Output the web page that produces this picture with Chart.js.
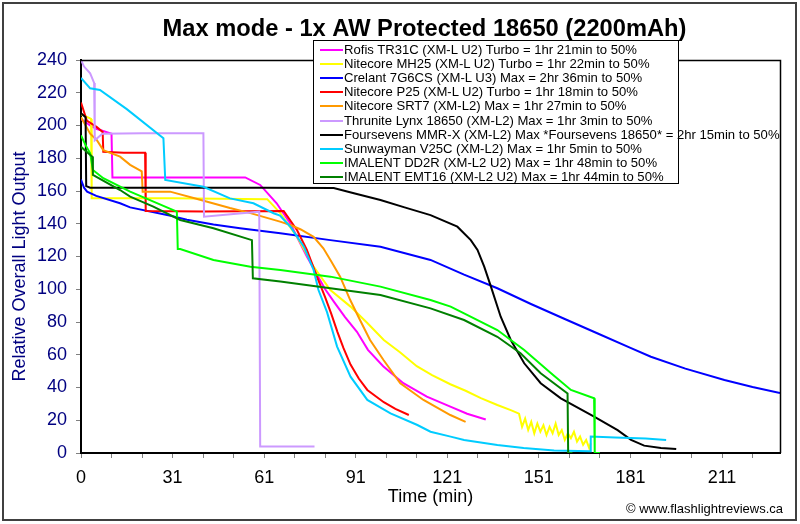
<!DOCTYPE html>
<html><head><meta charset="utf-8">
<script src="https://cdn.jsdelivr.net/npm/chart.js@4"></script>
<style>
html,body{margin:0;padding:0;background:#fff;}
#wrap{position:relative;width:800px;height:524px;overflow:hidden;}
#legend{position:absolute;left:313px;top:40px;width:364px;height:142px;border:1px solid #000;background:#fff;font-family:"Liberation Sans",Arial,sans-serif;font-size:13.1px;color:#000;}
.row{position:absolute;left:0;height:14px;white-space:nowrap;}
.sw{position:absolute;left:6px;top:7px;width:23px;height:2px;}
.tx{position:absolute;left:30px;top:0;line-height:16px;}
#copy{position:absolute;right:17px;top:501px;font-family:"Liberation Sans",Arial,sans-serif;font-size:13px;line-height:15px;color:#000;white-space:nowrap;}
</style></head>
<body>
<div id="wrap">
<canvas id="c" width="800" height="524"></canvas>
<div id="legend"></div>
<div id="copy"></div>
</div>
<script>
const FONT = '"Liberation Sans", Arial, sans-serif';
const chartTitle = 'Max mode - 1x AW Protected 18650 (2200mAh)';
const xAxisTitle = 'Time (min)';
const yAxisTitle = 'Relative Overall Light Output';
const copyrightText = '\u00A9 www.flashlightreviews.ca';
const xTickLabels = ['0','31','61','91','121','151','181','211'];

const seriesLabels = [
  'Rofis TR31C (XM-L U2) Turbo = 1hr 21min to 50%',
  'Nitecore MH25 (XM-L U2) Turbo = 1hr 22min to 50%',
  'Crelant 7G6CS (XM-L U3) Max = 2hr 36min to 50%',
  'Nitecore P25 (XM-L U2) Turbo = 1hr 18min to 50%',
  'Nitecore SRT7 (XM-L2) Max = 1hr 27min to 50%',
  'Thrunite Lynx 18650 (XM-L2) Max = 1hr 3min to 50%',
  'Foursevens MMR-X (XM-L2) Max *Foursevens 18650* = 2hr 15min to 50%',
  'Sunwayman V25C (XM-L2) Max = 1hr 5min to 50%',
  'IMALENT DD2R (XM-L2 U2) Max = 1hr 48min to 50%',
  'IMALENT EMT16 (XM-L2 U2) Max = 1hr 44min to 50%'
];
const seriesColors = ['#FF00FF','#FFFF00','#0000FF','#FF0000','#FF9900','#CC99FF','#000000','#00CCFF','#00FF00','#008000'];

const tr31cX = [0, 3, 5, 10, 10.3, 30, 53.8, 58.7, 64.1, 68.6, 74, 77, 80, 83, 86.5, 90.4, 94, 99, 105.6, 113.3, 121, 126.5, 132.6];
const tr31cY = [204, 200, 198, 195, 168.3, 168.3, 168.3, 163.7, 152.5, 140, 120, 110, 100, 92, 83, 74, 63, 53, 42.6, 34.4, 28.3, 24, 20.5];

const mh25X = [0, 3.3, 3.5, 30, 61, 65.3, 70.8, 76.2, 81.7, 88.3, 93.8, 99.2, 104.5, 110, 115, 121, 126, 131, 136.4, 141, 143.5, 144.5, 145.5, 146.5, 147.5, 148.5, 149.5, 150.5, 151.5, 152.5, 153.5, 154.5, 155.5, 156.5, 157.5, 158.5, 159.5, 160.5, 161.5, 162.5, 163.5, 164.5, 165.5, 166.5, 167];
const mh25Y = [207, 204, 155.5, 155.5, 155, 146.5, 132, 113.8, 99.5, 89.4, 79.4, 69, 61.5, 53, 47.5, 42, 38, 33.5, 29.3, 26, 24, 16, 21, 14, 19, 12, 18, 13, 17, 11, 16, 12, 18, 11, 14, 8, 12, 9, 13, 7, 10, 5, 8, 3, 6];

const g6csX = [0, 1, 2, 5, 12.8, 16.1, 29, 34.7, 43.4, 52.1, 65.3, 81.7, 98.1, 114.5, 125.5, 136.4, 147.4, 158.3, 169.3, 180.2, 186.7, 198, 210.8, 220, 229];
const g6csY = [167, 162, 159.6, 157, 152.5, 150, 145, 142.5, 139.5, 137.2, 134.2, 130, 126, 117.9, 108.9, 100.6, 91, 82, 73, 64, 58.8, 51.5, 44.6, 40.3, 36.6];

const p25X = [0, 1.9, 5.2, 7.1, 7.3, 14, 21, 21.2, 40, 66.4, 70.8, 74, 77.3, 80, 82, 84, 86, 88.3, 91, 93.8, 99.2, 103, 107.4];
const p25Y = [214, 203, 199, 196, 184, 183.4, 183.4, 147.8, 147.5, 147.8, 136, 124, 107.7, 95, 85, 74, 64, 54, 45.5, 38.5, 31, 27, 23.2];

const srt7X = [0, 3, 5.2, 7.3, 12.8, 16.1, 19.9, 20.2, 29.2, 38.4, 48.8, 55.5, 65.2, 68.6, 72, 76.2, 79.4, 82, 84.9, 88.2, 91.4, 94.7, 99.1, 104.6, 112.2, 121, 126];
const srt7Y = [205, 195, 191, 185, 181, 176, 172, 159.6, 159.6, 155, 149.6, 146.5, 141.3, 139.2, 136.5, 132, 125, 117, 107.7, 93.4, 81.2, 69, 56.8, 42.6, 32.4, 23.2, 19];

const lynxX = [0, 1, 3, 4.3, 4.5, 7, 20, 40.1, 40.3, 50, 58.4, 58.7, 76.5];
const lynxY = [240, 236, 231.9, 226, 191, 195, 195.2, 195.2, 144.3, 146, 147.4, 4, 4];

const mmrxX = [0, 1.5, 1.7, 3, 20, 40, 60, 82.8, 89.4, 98.1, 106, 114.5, 123.3, 127.7, 129.9, 132.1, 134.3, 137.5, 140.8, 145.2, 150.6, 157.2, 168.1, 175.8, 180.2, 184.5, 190, 195];
const mmrxY = [207.5, 205, 163, 162, 162, 162, 162, 161.8, 158.6, 154.5, 150, 145.3, 138.2, 130, 124, 113.8, 101.6, 83.2, 69, 54.8, 42.6, 33.4, 22.2, 14, 8, 4.5, 3, 2.4];

const v25cX = [0, 3, 6.2, 15, 27, 27.6, 40.1, 48.8, 56.5, 63.1, 65.2, 68.6, 73, 76.2, 77.8, 80.6, 83.9, 88.3, 93.8, 101.4, 110.2, 114.5, 121.1, 125.5, 136.4, 145, 155, 166.8, 167, 175, 185, 191.7];
const v25cY = [229, 222.7, 221.7, 210, 192.2, 166.7, 162.6, 155.5, 152.5, 146.4, 145, 138.2, 126, 111.8, 99.5, 86, 65, 46.6, 32.4, 24.2, 17.1, 13, 10, 8, 4.9, 3, 1.5, 1, 10, 9.5, 8.8, 8];

const dd2rX = [0, 1.5, 3, 3.9, 7.3, 16.1, 31.4, 31.7, 32.5, 43.4, 55.5, 65.3, 81.7, 98.1, 114.5, 121.1, 125.5, 136.4, 145.2, 154, 160.5, 168.1, 168.3, 170];
const dd2rY = [194, 188, 183, 172.8, 167.8, 159.6, 147.4, 124.6, 124.6, 117.9, 113.8, 111.8, 107.7, 101.6, 93.4, 89.4, 85.3, 75.1, 62.9, 48.7, 38.5, 33.4, 0, 0];

const emt16X = [0, 2.4, 3.7, 3.9, 12.8, 16.1, 23.7, 32.5, 43.4, 56, 56.3, 65.3, 81.7, 98.1, 114.5, 125.5, 136.4, 144, 150.6, 159.4, 159.6, 161];
const emt16Y = [187, 183, 181, 169.8, 160.6, 156.6, 150.5, 142.3, 137.2, 130, 106.7, 104.7, 100.6, 96.5, 88.3, 81.2, 71, 60.9, 48.7, 36.4, 0, 0];

const seriesX = [tr31cX, mh25X, g6csX, p25X, srt7X, lynxX, mmrxX, v25cX, dd2rX, emt16X];
const seriesY = [tr31cY, mh25Y, g6csY, p25Y, srt7Y, lynxY, mmrxY, v25cY, dd2rY, emt16Y];

const datasets = seriesLabels.map((label, i) => ({
  label,
  data: seriesX[i].map((x, j) => ({x, y: seriesY[i][j]})),
  borderColor: seriesColors[i],
  backgroundColor: seriesColors[i],
  borderWidth: 2,
  pointRadius: 0,
  showLine: true,
  fill: false,
  tension: 0,
  order: seriesLabels.length - i
}));

// legend (HTML)
const lg = document.getElementById('legend');
seriesLabels.forEach((label, i) => {
  const row = document.createElement('div');
  row.className = 'row';
  row.style.top = (1 + i * 14.1) + 'px';
  const sw = document.createElement('div');
  sw.className = 'sw';
  sw.style.background = seriesColors[i];
  const tx = document.createElement('div');
  tx.className = 'tx';
  tx.textContent = label;
  row.appendChild(sw); row.appendChild(tx);
  lg.appendChild(row);
});
document.getElementById('copy').textContent = copyrightText;

const framePlugin = {
  id: 'frame',
  beforeDraw(chart) {
    const c = chart.ctx;
    c.save();
    c.fillStyle = '#fff';
    c.fillRect(0, 0, chart.width, chart.height);
    c.restore();
  },
  afterDraw(chart) {
    const c = chart.ctx, a = chart.chartArea;
    c.save();
    c.strokeStyle = '#000';
    c.lineWidth = 1.5;
    c.beginPath();
    c.moveTo(a.left, a.top + 0.5);
    c.lineTo(a.right + 0.5, a.top + 0.5);
    c.lineTo(a.right + 0.5, a.bottom);
    c.stroke();
    c.strokeStyle = '#404040';
    c.lineWidth = 2;
    c.strokeRect(3, 3, 793, 517);
    // chart title
    c.fillStyle = '#000';
    c.font = 'bold 23.7px ' + FONT;
    c.textAlign = 'center';
    c.textBaseline = 'middle';
    c.fillText(chartTitle, 424.5, 29);
    // y axis title
    c.translate(20, (a.top + a.bottom) / 2 + 10);
    c.rotate(-Math.PI / 2);
    c.fillStyle = '#000080';
    c.font = '18px ' + FONT;
    c.fillText(yAxisTitle, 0, 0);
    c.restore();
  }
};

const tickGrid = {display: true, drawOnChartArea: false, drawTicks: true, tickLength: 5, color: '#808080'};

new Chart(document.getElementById('c'), {
  type: 'scatter',
  data: {datasets},
  options: {
    responsive: false,
    animation: false,
    events: [],
    layout: {padding: {left: 0, right: 20, top: 60, bottom: 0}},
    plugins: {
      legend: {display: false},
      tooltip: {enabled: false},
      title: {display: false}
    },
    scales: {
      x: {
        type: 'linear', min: 0, max: 229,
        afterFit(s) { s.height = 71; },
        ticks: {stepSize: 10, includeBounds: false, autoSkip: false, maxRotation: 0, minRotation: 0,
          color: '#000', font: {family: FONT, size: 18}, padding: 9,
          callback: (v) => { const r = Math.round(v); return r % 30 === 0 ? xTickLabels[r / 30] : ''; }},
        grid: tickGrid,
        border: {display: true, color: '#000', width: 2},
        title: {display: true, text: xAxisTitle, color: '#000', font: {family: FONT, size: 18}, padding: {top: 0, bottom: 16}}
      },
      y: {
        min: 0, max: 240,
        afterFit(s) { s.width = 81; },
        ticks: {stepSize: 20, color: '#000080', font: {family: FONT, size: 18}, padding: 9},
        grid: tickGrid,
        border: {display: true, color: '#000', width: 2},
        title: {display: false}
      }
    }
  },
  plugins: [framePlugin]
});
</script>
</body></html>
